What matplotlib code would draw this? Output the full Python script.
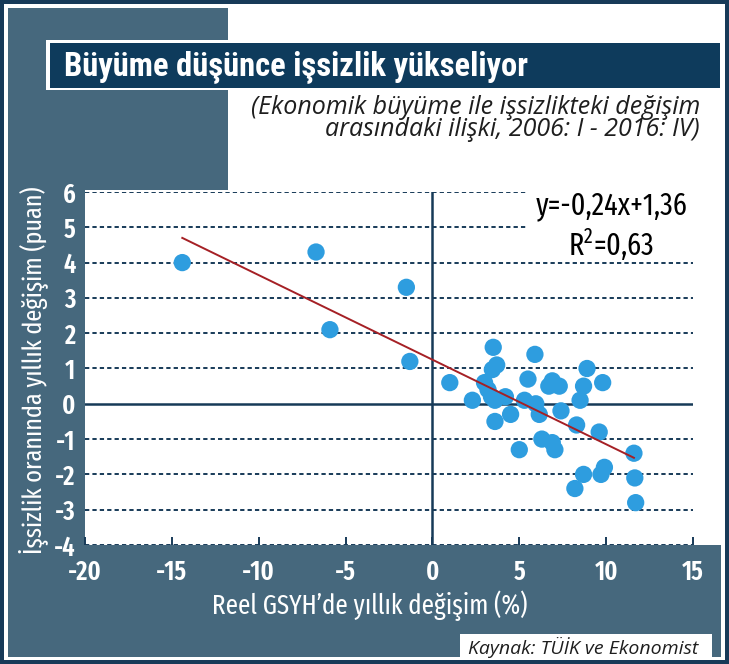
import matplotlib
matplotlib.use('Agg')
import matplotlib.pyplot as plt
from matplotlib.patches import Rectangle

# Verileri
gsyh = [-14.4, -6.7, -1.5, -5.9, -1.3, 3.5, 5.9, 3.7, 3.45, 8.9,
        1.0, 3.0, 5.5, 6.9, 6.7, 7.3, 8.7, 9.8, 2.3, 3.2,
        3.4, 3.6, 4.2, 5.3, 5.95, 6.15, 7.4, 8.5, 3.6, 4.5,
        8.3, 9.6, 6.3, 6.9, 7.05, 5.0, 11.6, 8.7, 9.9, 9.7,
        8.2, 11.65, 11.7]
issizlik = [4.0, 4.3, 3.3, 2.1, 1.2, 1.6, 1.4, 1.1, 0.97, 1.0,
            0.6, 0.6, 0.7, 0.65, 0.5, 0.5, 0.5, 0.6, 0.1, 0.4,
            0.2, 0.1, 0.2, 0.1, 0.0, -0.3, -0.2, 0.1, -0.5, -0.3,
            -0.6, -0.8, -1.0, -1.1, -1.3, -1.3, -1.4, -2.0, -1.8, -2.0,
            -2.4, -2.1, -2.8]

trend_x = [-14.4, 11.6]
trend_y = [4.70, -1.53]

x_ticks = [-20, -15, -10, -5, 0, 5, 10, 15]
y_ticks = [-4, -3, -2, -1, 0, 1, 2, 3, 4, 5, 6]

baslik = 'Büyüme düşünce işsizlik yükseliyor'
alt_baslik_1 = '(Ekonomik büyüme ile işsizlikteki değişim'
alt_baslik_2 = 'arasındaki ilişki, 2006: I - 2016: IV)'
x_etiket = 'Reel GSYH\u2019de yıllık değişim (%)'
y_etiket = 'İşsizlik oranında yıllık değişim (puan)'
denklem = 'y=-0,24x+1,36'
r_kare = 'R$^\\mathregular{2}$=0,63'
kaynak = 'Kaynak: TÜİK ve Ekonomist'

koyu = '#173a58'
arduvaz = '#46687d'
lacivert = '#0e3b5c'
nokta = '#2e9ddf'
dar = ['Fira Sans Extra Condensed', 'DejaVu Sans']
baslik_font = ['Roboto Condensed', 'DejaVu Sans']
italik = ['Open Sans', 'DejaVu Sans']

W, H = 729, 664
fig = plt.figure(figsize=(W / 100, H / 100), dpi=100)

# Arka plan (piksel koordinatlarında)
bg = fig.add_axes([0, 0, 1, 1])
bg.set_xlim(0, W)
bg.set_ylim(H, 0)
bg.axis('off')
bg.add_patch(Rectangle((0, 0), W, H, facecolor=koyu, edgecolor='none'))
bg.add_patch(Rectangle((4, 4), W - 8, H - 8, facecolor='white', edgecolor='none'))
bg.add_patch(Rectangle((8, 8), 77, 649, facecolor=arduvaz, edgecolor='none'))
bg.add_patch(Rectangle((8, 8), 220, 182, facecolor=arduvaz, edgecolor='none'))
bg.add_patch(Rectangle((8, 545), 713, 112, facecolor=arduvaz, edgecolor='none'))
bg.add_patch(Rectangle((460, 634), 252, 24, facecolor='white', edgecolor='none'))
bg.add_patch(Rectangle((46, 40), 674, 50, facecolor='white', edgecolor='none'))
bg.add_patch(Rectangle((50, 43), 670, 45, facecolor=lacivert, edgecolor='none'))

bg.text(64, 67, baslik, color='white', fontsize=23.5, fontweight='bold',
        family=baslik_font, va='center', ha='left')
bg.text(700, 107, alt_baslik_1, color='#1e1e1e', fontsize=18, style='italic',
        family=italik, va='center', ha='right')
bg.text(700, 130, alt_baslik_2, color='#1e1e1e', fontsize=18, style='italic',
        family=italik, va='center', ha='right')
bg.text(33, 370, y_etiket, color='white', fontsize=19, family=dar,
        rotation=90, va='center', ha='center')
bg.text(370, 606, x_etiket, color='white', fontsize=19.5, family=dar,
        va='center', ha='center')
bg.text(698, 647, kaynak, color='#1e1e1e', fontsize=14, style='italic',
        family=italik, va='center', ha='right')

# Grafik alanı
ax = fig.add_axes([85 / W, (H - 545) / H, 608 / W, 353 / H])
ax.set_facecolor('white')
ax.set_xlim(-20, 15)
ax.set_ylim(-4, 6)
for s in ax.spines.values():
    s.set_visible(False)

for yv in y_ticks:
    if yv != 0:
        ax.axhline(yv, color=koyu, lw=1.4, ls=(0, (2.2, 1.6)), zorder=1)
ax.axhline(0, color=koyu, lw=1.8, zorder=2)
ax.axvline(0, color=koyu, lw=1.8, zorder=2)

# Denklem kutusu ızgarayı örtüyor
ax.add_patch(Rectangle((0.725, 0.825), 0.3, 0.2, transform=ax.transAxes,
                       facecolor='white', edgecolor='none', zorder=3,
                       clip_on=False))
ax.text(0.866, 0.962, denklem, transform=ax.transAxes, fontsize=22,
        family=dar, ha='center', va='center', zorder=4)
ax.text(0.866, 0.85, r_kare, transform=ax.transAxes, fontsize=22,
        family=dar, ha='center', va='center', zorder=4)

ax.scatter(gsyh, issizlik, s=155, color=nokta, edgecolors='none', zorder=5)
ax.plot(trend_x, trend_y, color='#a52025', lw=1.4, zorder=6)

ax.set_xticks(x_ticks)
ax.set_yticks(y_ticks)
ax.set_xticklabels([str(v) for v in x_ticks])
ax.set_yticklabels([str(v) for v in y_ticks])
ax.tick_params(axis='x', direction='in', length=6, width=1.4, color=koyu,
               pad=10, labelsize=19, labelcolor='white')
ax.tick_params(axis='y', length=0, pad=7, labelsize=19, labelcolor='white')
for lab in ax.get_xticklabels() + ax.get_yticklabels():
    lab.set_family(dar)
    lab.set_fontweight('semibold')

fig.savefig('out.png', dpi=100)
